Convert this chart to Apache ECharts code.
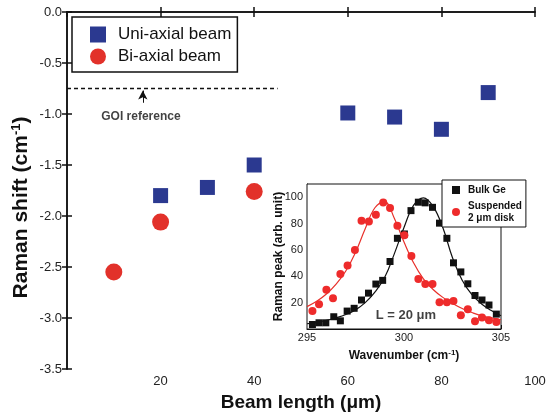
<!DOCTYPE html>
<html><head><meta charset="utf-8">
<script src="https://cdn.jsdelivr.net/npm/echarts@6/dist/echarts.min.js"></script>
<style>html,body{margin:0;padding:0;background:#fff}#c{width:547px;height:414px}</style>
</head><body><div id="c"></div>
<script>
// Main plot data
const uniLength = [20, 30, 40, 60, 70, 80, 90];
const uniShift = [-1.80, -1.72, -1.50, -0.99, -1.03, -1.15, -0.79];
const biLength = [10, 20, 40];
const biShift = [-2.55, -2.06, -1.76];
const goiShift = -0.75;
const goiSpan = [0, 45];
const goiArrowX = 16.2;
const goiArrowFrom = -0.89;
const goiArrowTo = -0.77;
const goiLabelPos = [15.8, -1.03];

// Inset data
const bulkWn = [295.28,295.62,295.97,296.38,296.72,297.07,297.43,297.81,298.17,298.55,298.9,299.28,299.66,300.02,300.36,300.74,301.09,301.47,301.83,302.21,302.55,302.93,303.29,303.66,304.02,304.38,304.76];
const bulkInt = [3.4,4.7,4.7,9.3,6.2,13.6,15.7,22,27.2,34.1,36.9,51.2,68.8,72.1,89.8,96.2,95.7,92.3,80.3,68.8,50.2,43.3,34.3,25.4,22,18.2,11.3];
const diskWn = [295.28,295.62,296.0,296.34,296.72,297.09,297.47,297.81,298.19,298.55,298.93,299.28,299.66,300.02,300.38,300.74,301.1,301.47,301.83,302.21,302.55,302.93,303.29,303.66,304.02,304.38,304.76];
const diskInt = [13.6,18.7,29.7,23.3,41.7,48.1,59.9,82.1,81.6,86.7,95.9,91.8,78.3,71.1,55.3,37.9,34.1,34.1,20.3,20.3,21.3,10.5,14.9,5.9,8.8,6.7,5.4];
const fitWn = [295,295.5,296,296.5,297,297.5,298,298.5,299,299.5,300,300.5,301,301.5,302,302.5,303,303.5,304,304.5,305];
const bulkFit = [4,5,6.5,8.5,11,14.5,20,28,39,57,77,94,99.5,93,77,54,37,26,19,14,10];
const diskFit = [17,21,26.5,34,44,58,76,92,96.5,84,66,50,38,30,24,19.5,15.5,12.5,10,8.5,7];
const insetLabelPos = [300.1, 10];

const F = 'Liberation Sans, Arial, sans-serif';
const pair = (xs, ys) => xs.map((x, i) => [x, ys[i]]);
const blue = '#2b3990', red = '#e2312a';

const chart = echarts.init(document.getElementById('c'));
const axLine = {show: true, lineStyle: {color: '#111', width: 1.5}};
chart.setOption({
  backgroundColor: '#fff',
  animation: false,
  grid: [
    {left: 67, top: 12, right: 12, bottom: 45, outerBoundsMode: 'none', containLabel: false},
    {left: 307, top: 184, width: 194, height: 145, outerBoundsMode: 'none', containLabel: false, show: true, backgroundColor: '#fff', borderColor: '#111', borderWidth: 1, z: 5}
  ],
  legend: [
    {left: 72, top: 17, orient: 'vertical', padding: [9, 6, 7, 18], itemWidth: 16, itemHeight: 16, itemGap: 5,
     borderColor: '#111', borderWidth: 1.5, backgroundColor: '#fff',
     textStyle: {fontFamily: F, fontSize: 17, color: '#111', padding: [0, 0, 0, 7]},
     data: [{name: 'Uni-axial beam', icon: 'rect'}, {name: 'Bi-axial beam', icon: 'circle'}]},
    {left: 442, top: 180, orient: 'vertical', padding: [4, 4, 3, 10], itemWidth: 8, itemHeight: 8, itemGap: 4, z: 20,
     borderColor: '#111', borderWidth: 1, backgroundColor: '#fff',
     textStyle: {fontFamily: F, fontSize: 10, fontWeight: 'bold', color: '#111', lineHeight: 12, padding: [0, 0, 0, 3]},
     data: [{name: 'Bulk Ge', icon: 'rect'}, {name: 'Suspended\n2 μm disk', icon: 'circle'}]}
  ],
  xAxis: [
    {gridIndex: 0, type: 'value', min: 0, max: 100, interval: 20,
     axisLine: axLine, axisTick: {inside: true, length: 5, lineStyle: {color: '#111', width: 1.5}},
     axisLabel: {showMinLabel: false, fontFamily: F, fontSize: 13, color: '#222', margin: 6},
     splitLine: {show: false},
     name: 'Beam length (μm)', nameLocation: 'middle', nameGap: 24, nameMoveOverlap: false,
     nameTextStyle: {fontFamily: F, fontSize: 19, fontWeight: 'bold', color: '#111'}},
    {gridIndex: 0, type: 'value', position: 'top', min: 0, max: 100, interval: 20,
     axisLine: axLine, axisTick: {inside: true, length: 5, lineStyle: {color: '#111', width: 1.5}},
     axisLabel: {show: false}, splitLine: {show: false}},
    {gridIndex: 1, type: 'value', min: 295, max: 305, interval: 5,
     axisLine: {show: true, lineStyle: {color: '#111', width: 1}},
     axisTick: {inside: true, length: 4, lineStyle: {color: '#111'}},
     axisLabel: {fontFamily: F, fontSize: 11, color: '#222', margin: 3},
     splitLine: {show: false},
     name: 'Wavenumber (cm{sup|-1})', nameLocation: 'middle', nameGap: 20, nameMoveOverlap: false,
     nameTextStyle: {fontFamily: F, fontSize: 12, fontWeight: 'bold', color: '#111',
       rich: {sup: {fontFamily: F, fontSize: 8, fontWeight: 'bold', color: '#111', padding: [0, 0, 6, 0]}}}}
  ],
  yAxis: [
    {gridIndex: 0, type: 'value', min: -3.5, max: 0, interval: 0.5,
     axisLine: axLine, axisTick: {inside: true, length: 5, lineStyle: {color: '#111', width: 1.5}},
     axisLabel: {fontFamily: F, fontSize: 13, color: '#222', margin: 5, formatter: v => v.toFixed(1)},
     splitLine: {show: false},
     name: 'Raman shift (cm{sup|-1})', nameLocation: 'middle', nameGap: 34, nameMoveOverlap: false,
     nameTextStyle: {fontFamily: F, fontSize: 21, fontWeight: 'bold', color: '#111', padding: [0, 34, 0, 0],
       rich: {sup: {fontFamily: F, fontSize: 13, fontWeight: 'bold', color: '#111', padding: [0, 0, 10, 0]}}}},
    {gridIndex: 0, type: 'value', position: 'right', min: -3.5, max: 0, interval: 0.5,
     axisLine: axLine, axisTick: {inside: true, length: 5, lineStyle: {color: '#111', width: 1.5}},
     axisLabel: {show: false}, splitLine: {show: false}},
    {gridIndex: 1, type: 'value', min: 0, max: 110, interval: 20,
     axisLine: {show: true, lineStyle: {color: '#111', width: 1}},
     axisTick: {inside: true, length: 4, lineStyle: {color: '#111'}},
     axisLabel: {showMinLabel: false, showMaxLabel: false, fontFamily: F, fontSize: 11, color: '#222', margin: 4},
     splitLine: {show: false},
     name: 'Raman peak (arb. unit)', nameLocation: 'middle', nameGap: 22, nameMoveOverlap: false,
     nameTextStyle: {fontFamily: F, fontSize: 12, fontWeight: 'bold', color: '#111'}}
  ],
  series: [
    {type: 'line', name: 'GOI', xAxisIndex: 0, yAxisIndex: 0, silent: true, symbol: 'none',
     data: goiSpan.map(x => [x, goiShift]),
     lineStyle: {color: '#111', width: 1.3, type: [4, 3]},
     markLine: {silent: true, symbol: ['none', 'arrow'], symbolSize: [7, 9], label: {show: false},
       lineStyle: {color: '#111', width: 1, type: 'solid'},
       data: [[{coord: [goiArrowX, goiArrowFrom]}, {coord: [goiArrowX, goiArrowTo]}]]}},
    {type: 'scatter', name: 'GOI label', xAxisIndex: 0, yAxisIndex: 0, silent: true, symbolSize: 0,
     data: [goiLabelPos],
     label: {show: true, position: 'inside', formatter: 'GOI reference', fontFamily: F, fontSize: 12, fontWeight: 'bold', color: '#111'}},
    {type: 'scatter', name: 'Uni-axial beam', xAxisIndex: 0, yAxisIndex: 0, symbol: 'rect', symbolSize: 15,
     itemStyle: {color: blue, opacity: 1}, data: pair(uniLength, uniShift)},
    {type: 'scatter', name: 'Bi-axial beam', xAxisIndex: 0, yAxisIndex: 0, symbol: 'circle', symbolSize: 17,
     itemStyle: {color: red, opacity: 1}, data: pair(biLength, biShift)},
    {type: 'line', name: 'Bulk fit', xAxisIndex: 2, yAxisIndex: 2, symbol: 'none', smooth: 0.4, z: 6,
     lineStyle: {color: '#111', width: 1.2}, data: pair(fitWn, bulkFit)},
    {type: 'line', name: 'Disk fit', xAxisIndex: 2, yAxisIndex: 2, symbol: 'none', smooth: 0.4, z: 6,
     lineStyle: {color: '#e8302a', width: 1.2}, data: pair(fitWn, diskFit)},
    {type: 'scatter', name: 'Bulk Ge', xAxisIndex: 2, yAxisIndex: 2, symbol: 'rect', symbolSize: 7, z: 7,
     itemStyle: {color: '#111', opacity: 1}, data: pair(bulkWn, bulkInt)},
    {type: 'scatter', name: 'Suspended\n2 μm disk', xAxisIndex: 2, yAxisIndex: 2, symbol: 'circle', symbolSize: 8, z: 7,
     itemStyle: {color: '#ee2b2b', opacity: 1}, data: pair(diskWn, diskInt)},
    {type: 'scatter', name: 'L label', xAxisIndex: 2, yAxisIndex: 2, silent: true, symbolSize: 0, z: 8,
     data: [insetLabelPos],
     label: {show: true, position: 'inside', formatter: 'L = 20 μm', fontFamily: F, fontSize: 13, fontWeight: 'bold', color: '#111'}}
  ]
});
</script></body></html>
